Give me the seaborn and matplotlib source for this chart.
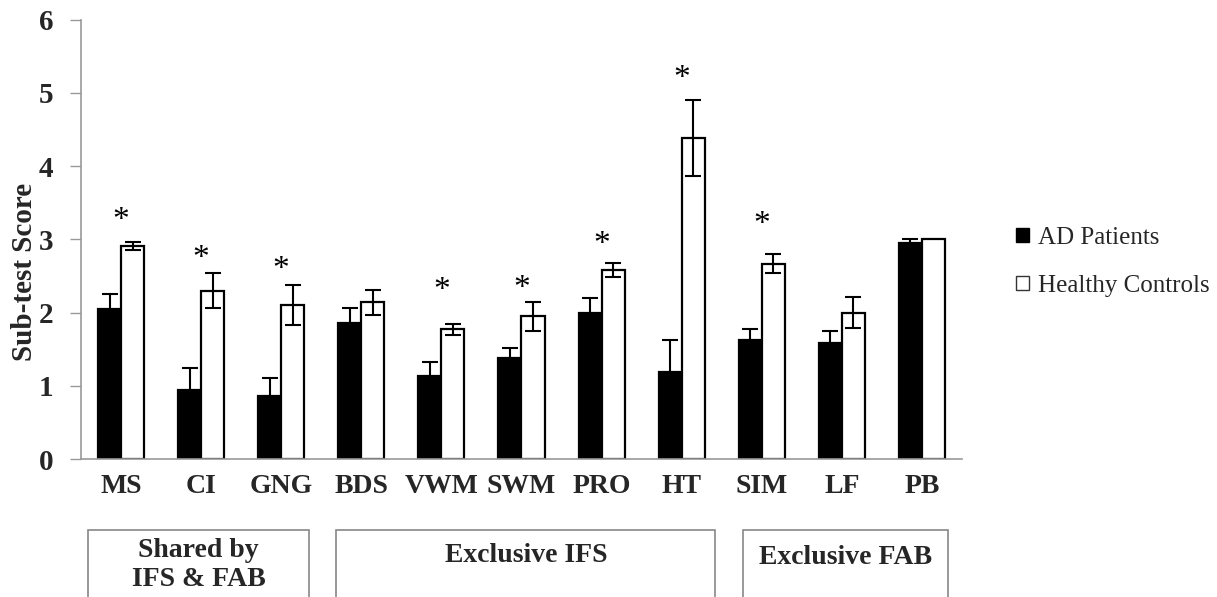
import numpy as np
import pandas as pd
import matplotlib
matplotlib.use("Agg")
import matplotlib.pyplot as plt
import matplotlib.transforms as mtransforms
from matplotlib.patches import Rectangle, Patch
import seaborn as sns

# ---- data ----
categories = ["MS", "CI", "GNG", "BDS", "VWM", "SWM", "PRO", "HT", "SIM", "LF", "PB"]
ad_mean = [2.05, 0.94, 0.86, 1.86, 1.13, 1.38, 2.00, 1.19, 1.62, 1.58, 2.95]
ad_err = [0.20, 0.30, 0.25, 0.20, 0.20, 0.13, 0.20, 0.44, 0.15, 0.17, 0.05]
hc_mean = [2.91, 2.30, 2.10, 2.14, 1.77, 1.95, 2.58, 4.38, 2.67, 2.00, 3.00]
hc_err = [0.06, 0.24, 0.27, 0.17, 0.08, 0.20, 0.10, 0.52, 0.13, 0.21, 0.00]
star_y = [3.36, 2.84, 2.68, None, 2.40, 2.43, 3.03, 5.29, 3.30, None, None]
groups = ["AD Patients", "Healthy Controls"]
y_ticks = [0, 1, 2, 3, 4, 5, 6]
y_label = "Sub-test Score"
box_labels = ["Shared by\nIFS & FAB", "Exclusive IFS", "Exclusive FAB"]

df = pd.DataFrame({
    "Test": categories * 2,
    "Group": [groups[0]] * len(categories) + [groups[1]] * len(categories),
    "Score": ad_mean + hc_mean,
    "Err": ad_err + hc_err,
})

sns.set_theme(style="white")
plt.rcParams["font.family"] = ["Liberation Serif", "DejaVu Serif"]

fig = plt.figure(figsize=(12.17, 5.97), dpi=100)
ax = fig.add_axes([81 / 1217, 1 - 459 / 597, (962 - 81) / 1217, (459 - 19.7) / 597])

sns.barplot(data=df, x="Test", y="Score", hue="Group", order=categories,
            hue_order=groups, palette={groups[0]: "black", groups[1]: "white"},
            edgecolor="black", linewidth=1.6, width=0.575, gap=0,
            errorbar=None, legend=False, ax=ax)

# error bars from bar patches
bars = [p for p in ax.patches if isinstance(p, Rectangle)]
n = len(categories)
for gi, (means, errs) in enumerate([(ad_mean, ad_err), (hc_mean, hc_err)]):
    for i in range(n):
        p = bars[gi * n + i]
        xc = p.get_x() + p.get_width() / 2
        if errs[i] > 0:
            ax.errorbar(xc, means[i], yerr=errs[i], fmt="none", ecolor="black",
                        elinewidth=1.5, capsize=6, capthick=1.5, zorder=5)

# significance stars
star_tr = mtransforms.offset_copy(ax.transData, fig=fig, x=0, y=-11.3, units="points")
for i, sy in enumerate(star_y):
    if sy is not None:
        ax.text(i, sy, "*", ha="center", va="baseline", fontsize=24,
                transform=star_tr, color="black")

ax.set_xlim(-0.5, n - 0.5)
ax.set_ylim(0, 6)
ax.set_yticks(y_ticks)
ax.set_yticklabels([str(t) for t in y_ticks], fontsize=21, fontweight="bold")
ax.set_xticks(np.arange(-0.5, n, 1.0))
ax.set_xticklabels([])
ax.set_xticks(np.arange(n), minor=True)
ax.set_xticklabels(categories, minor=True, fontsize=20, fontweight="bold")
ax.tick_params(axis="x", which="major", length=8, width=1, color="#999999", direction="out")
ax.tick_params(axis="x", which="minor", length=0, pad=11)
ax.tick_params(axis="y", length=8, width=1, color="#999999", direction="out", pad=12, left=True)
ax.set_xlabel("")
ax.set_ylabel(y_label, fontsize=21, fontweight="bold")
ax.yaxis.set_label_coords(-0.049, 0.426)

for s in ["top", "right"]:
    ax.spines[s].set_visible(False)
for s in ["left", "bottom"]:
    ax.spines[s].set_color("#999999")
    ax.spines[s].set_linewidth(1.2)
ax.grid(False)

# legend
handles = [Patch(facecolor="black", edgecolor="black", linewidth=1.0),
           Patch(facecolor="white", edgecolor="#333333", linewidth=1.0)]
fig.legend(handles, groups, loc="center left", bbox_to_anchor=(1016 / 1217, 1 - 262 / 597),
           frameon=False, fontsize=18, handlelength=0.5, handleheight=0.5,
           handletextpad=0.4, labelspacing=1.05, borderpad=0, borderaxespad=0)

# group boxes under the axis
btr = mtransforms.blended_transform_factory(ax.transData, fig.transFigure)
box_x = [(-0.416, 2.35), (2.69, 7.42), (7.77, 10.32)]
box_top = 1 - 530 / 597
text_y = [1 - 565 / 597, 1 - 555 / 597, 1 - 557 / 597]
for (x0, x1), lab, ty in zip(box_x, box_labels, text_y):
    r = Rectangle((x0, -0.1), x1 - x0, box_top + 0.1, transform=btr, fill=False,
                  edgecolor="#888888", linewidth=1.2, clip_on=False)
    fig.add_artist(r)
    fig.text((x0 + x1) / 2, ty, lab, transform=btr, ha="center", va="center",
             fontsize=20, fontweight="bold", linespacing=1.22)

fig.savefig("out.png", dpi=100, facecolor="white")
